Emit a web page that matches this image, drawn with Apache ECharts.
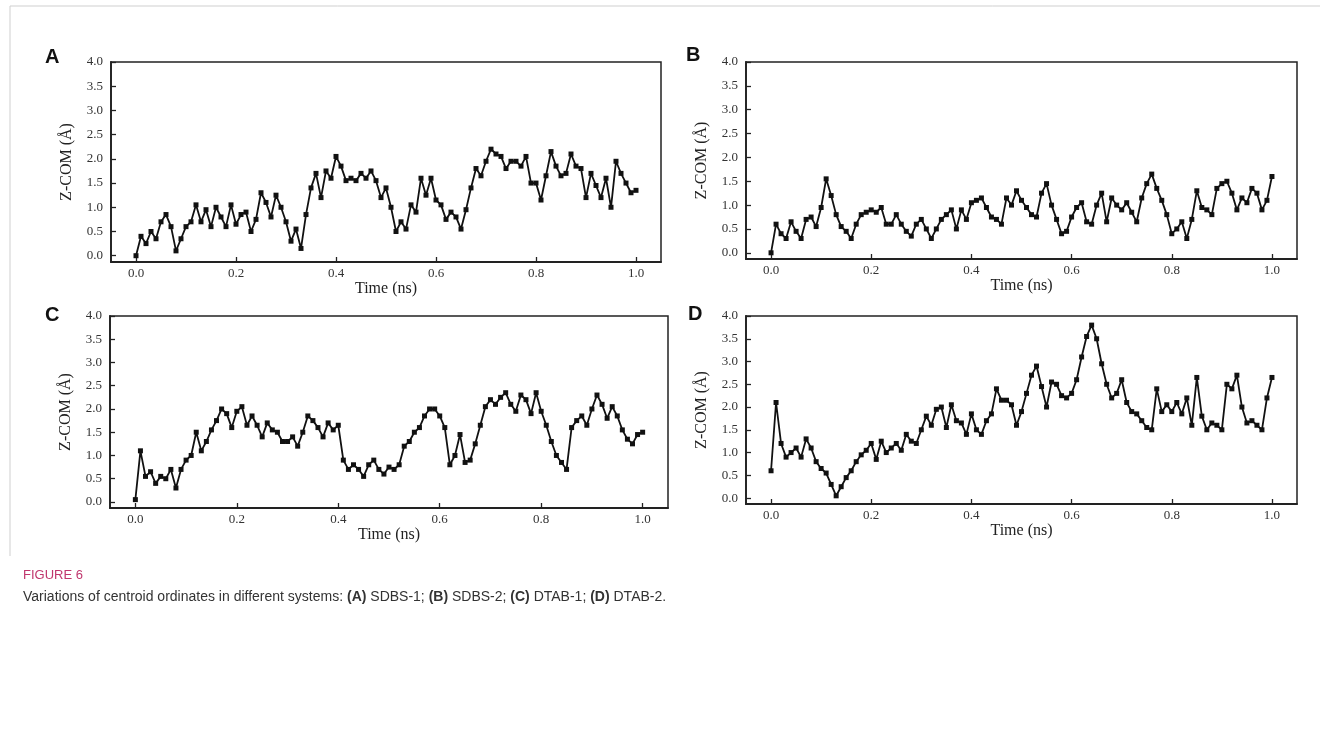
<!DOCTYPE html>
<html>
<head>
<meta charset="utf-8">
<script src="https://cdn.jsdelivr.net/npm/echarts@6/dist/echarts.min.js"></script>
<style>
  html, body { margin: 0; padding: 0; background: #fff; }
  #chart { width: 1320px; height: 742px; }
</style>
</head>
<body>
<div id="chart"></div>
<script>
// time samples (ns)
const timeNs = []
for (let i = 0; i <= 100; i++) timeNs.push(i / 100)

// Z-COM (Å), one value per 0.01 ns
const sdbs1 = [
  0.0, 0.4, 0.25, 0.5, 0.35, 0.7, 0.85, 0.6, 0.1, 0.35,
  0.6, 0.7, 1.05, 0.7, 0.95, 0.6, 1.0, 0.8, 0.6, 1.05,
  0.65, 0.85, 0.9, 0.5, 0.75, 1.3, 1.1, 0.8, 1.25, 1.0,
  0.7, 0.3, 0.55, 0.15, 0.85, 1.4, 1.7, 1.2, 1.75, 1.6,
  2.05, 1.85, 1.55, 1.6, 1.55, 1.7, 1.6, 1.75, 1.55, 1.2,
  1.4, 1.0, 0.5, 0.7, 0.55, 1.05, 0.9, 1.6, 1.25, 1.6,
  1.15, 1.05, 0.75, 0.9, 0.8, 0.55, 0.95, 1.4, 1.8, 1.65,
  1.95, 2.2, 2.1, 2.05, 1.8, 1.95, 1.95, 1.85, 2.05, 1.5,
  1.5, 1.15, 1.65, 2.15, 1.85, 1.65, 1.7, 2.1, 1.85, 1.8,
  1.2, 1.7, 1.45, 1.2, 1.6, 1.0, 1.95, 1.7, 1.5, 1.3,
  1.35
]
const sdbs2 = [
  0.0, 0.6, 0.4, 0.3, 0.65, 0.45, 0.3, 0.7, 0.75, 0.55,
  0.95, 1.55, 1.2, 0.8, 0.55, 0.45, 0.3, 0.6, 0.8, 0.85,
  0.9, 0.85, 0.95, 0.6, 0.6, 0.8, 0.6, 0.45, 0.35, 0.6,
  0.7, 0.5, 0.3, 0.5, 0.7, 0.8, 0.9, 0.5, 0.9, 0.7,
  1.05, 1.1, 1.15, 0.95, 0.75, 0.7, 0.6, 1.15, 1.0, 1.3,
  1.1, 0.95, 0.8, 0.75, 1.25, 1.45, 1.0, 0.7, 0.4, 0.45,
  0.75, 0.95, 1.05, 0.65, 0.6, 1.0, 1.25, 0.65, 1.15, 1.0,
  0.9, 1.05, 0.85, 0.65, 1.15, 1.45, 1.65, 1.35, 1.1, 0.8,
  0.4, 0.5, 0.65, 0.3, 0.7, 1.3, 0.95, 0.9, 0.8, 1.35,
  1.45, 1.5, 1.25, 0.9, 1.15, 1.05, 1.35, 1.25, 0.9, 1.1,
  1.6
]
const dtab1 = [
  0.05, 1.1, 0.55, 0.65, 0.4, 0.55, 0.5, 0.7, 0.3, 0.7,
  0.9, 1.0, 1.5, 1.1, 1.3, 1.55, 1.75, 2.0, 1.9, 1.6,
  1.95, 2.05, 1.65, 1.85, 1.65, 1.4, 1.7, 1.55, 1.5, 1.3,
  1.3, 1.4, 1.2, 1.5, 1.85, 1.75, 1.6, 1.4, 1.7, 1.55,
  1.65, 0.9, 0.7, 0.8, 0.7, 0.55, 0.8, 0.9, 0.7, 0.6,
  0.75, 0.7, 0.8, 1.2, 1.3, 1.5, 1.6, 1.85, 2.0, 2.0,
  1.85, 1.6, 0.8, 1.0, 1.45, 0.85, 0.9, 1.25, 1.65, 2.05,
  2.2, 2.1, 2.25, 2.35, 2.1, 1.95, 2.3, 2.2, 1.9, 2.35,
  1.95, 1.65, 1.3, 1.0, 0.85, 0.7, 1.6, 1.75, 1.85, 1.65,
  2.0, 2.3, 2.1, 1.8, 2.05, 1.85, 1.55, 1.35, 1.25, 1.45,
  1.5
]
const dtab2 = [
  0.6, 2.1, 1.2, 0.9, 1.0, 1.1, 0.9, 1.3, 1.1, 0.8,
  0.65, 0.55, 0.3, 0.05, 0.25, 0.45, 0.6, 0.8, 0.95, 1.05,
  1.2, 0.85, 1.25, 1.0, 1.1, 1.2, 1.05, 1.4, 1.25, 1.2,
  1.5, 1.8, 1.6, 1.95, 2.0, 1.55, 2.05, 1.7, 1.65, 1.4,
  1.85, 1.5, 1.4, 1.7, 1.85, 2.4, 2.15, 2.15, 2.05, 1.6,
  1.9, 2.3, 2.7, 2.9, 2.45, 2.0, 2.55, 2.5, 2.25, 2.2,
  2.3, 2.6, 3.1, 3.55, 3.8, 3.5, 2.95, 2.5, 2.2, 2.3,
  2.6, 2.1, 1.9, 1.85, 1.7, 1.55, 1.5, 2.4, 1.9, 2.05,
  1.9, 2.1, 1.85, 2.2, 1.6, 2.65, 1.8, 1.5, 1.65, 1.6,
  1.5, 2.5, 2.4, 2.7, 2.0, 1.65, 1.7, 1.6, 1.5, 2.2,
  2.65
]

const xTicks = [0, 0.2, 0.4, 0.6, 0.8, 1.0]
const yTicks = [0, 0.5, 1.0, 1.5, 2.0, 2.5, 3.0, 3.5, 4.0]
const panelLetters = ['A', 'B', 'C', 'D']
const panelData = [sdbs1, sdbs2, dtab1, dtab2]

const grids = [
  { left: 111, top: 62, width: 550, height: 200 },
  { left: 746, top: 62, width: 551, height: 197 },
  { left: 110, top: 316, width: 558, height: 192 },
  { left: 746, top: 316, width: 551, height: 188 }
]
const letterPos = [[45, 47], [686, 45], [45, 305], [688, 304]]

const serif = '"Liberation Serif", "DejaVu Serif", serif'
const axisColor = '#222'

const chart = echarts.init(document.getElementById('chart'))

let option = {
  backgroundColor: '#fff',
  animation: false,
  grid: grids.map(g => Object.assign({ show: true, borderColor: axisColor, borderWidth: 1.5, backgroundColor: 'transparent' }, g)),
  xAxis: grids.map((g, i) => ({
    type: 'value',
    gridIndex: i,
    min: -0.05,
    max: 1.05,
    name: 'Time (ns)',
    nameLocation: 'middle',
    nameGap: 19,
    nameTextStyle: { fontFamily: serif, fontSize: 16, color: '#222' },
    axisLine: { show: true, onZero: false, lineStyle: { color: axisColor, width: 1.8 } },
    axisTick: { show: true, inside: true, length: 5, customValues: xTicks, lineStyle: { color: axisColor, width: 1.3 } },
    axisLabel: { customValues: xTicks, fontFamily: serif, fontSize: 13, color: '#333', margin: 5, formatter: v => v.toFixed(1) },
    splitLine: { show: false }
  })),
  yAxis: grids.map((g, i) => ({
    type: 'value',
    gridIndex: i,
    min: -0.13,
    max: 4.0,
    name: 'Z-COM (Å)',
    nameLocation: 'middle',
    nameGap: 36,
    nameRotate: 90,
    nameTextStyle: { fontFamily: serif, fontSize: 16, color: '#222' },
    axisLine: { show: true, onZero: false, lineStyle: { color: axisColor, width: 1.8 } },
    axisTick: { show: true, inside: true, length: 5, customValues: yTicks, lineStyle: { color: axisColor, width: 1.3 } },
    axisLabel: { customValues: yTicks, fontFamily: serif, fontSize: 13, color: '#333', margin: 8, formatter: v => v.toFixed(1) },
    splitLine: { show: false }
  })),
  series: panelData.map((vals, i) => ({
    type: 'line',
    xAxisIndex: i,
    yAxisIndex: i,
    data: vals.map((v, k) => [timeNs[k], v]),
    symbol: 'rect',
    symbolSize: 5,
    showSymbol: true,
    lineStyle: { color: '#111', width: 1.8 },
    itemStyle: { color: '#111' }
  })),
  graphic: [
    // figure frame
    { type: 'line', shape: { x1: 10, y1: 6, x2: 1320, y2: 6 }, style: { stroke: '#cfcfcf', lineWidth: 1 } },
    { type: 'line', shape: { x1: 10, y1: 6, x2: 10, y2: 556 }, style: { stroke: '#cfcfcf', lineWidth: 1 } },
    ...panelLetters.map((t, i) => ({
      type: 'text',
      left: letterPos[i][0],
      top: letterPos[i][1],
      style: { text: t, font: 'bold 20px "Liberation Sans", Arial, sans-serif', fill: '#111' }
    })),
    {
      type: 'text',
      left: 23,
      top: 569,
      style: { text: 'FIGURE 6', font: '13px "Liberation Sans", Arial, sans-serif', fill: '#c0366d' }
    },
    {
      type: 'text',
      left: 23,
      top: 590,
      style: {
        text: 'Variations of centroid ordinates in different systems: {b|(A)} SDBS-1; {b|(B)} SDBS-2; {b|(C)} DTAB-1; {b|(D)} DTAB-2.',
        font: '14px "Liberation Sans", Arial, sans-serif',
        fill: '#333',
        rich: { b: { fontWeight: 'bold', fontSize: 14, fontFamily: '"Liberation Sans", Arial, sans-serif', fill: '#333' } }
      }
    }
  ]
}

chart.setOption(option)
</script>
</body>
</html>
